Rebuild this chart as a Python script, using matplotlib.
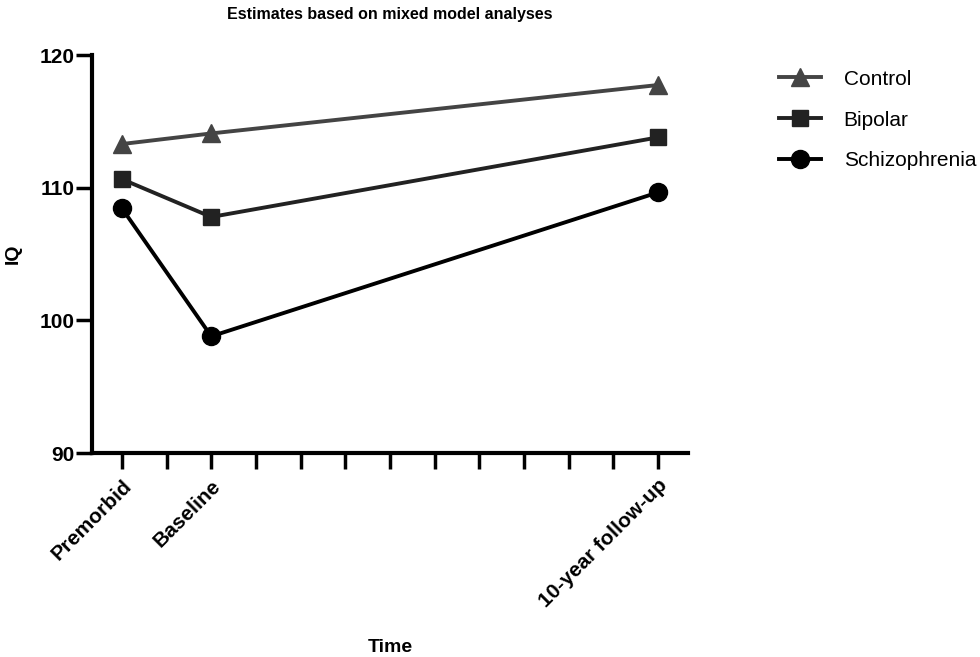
import numpy as np
import matplotlib as mpl
import matplotlib.pyplot as plt

# time in years relative to baseline
time = [-2, 0, 10]
time_labels = ['Premorbid', 'Baseline', '10-year follow-up']
control = [113.3, 114.1, 117.75]
bipolar = [110.65, 107.8, 113.8]
schizo = [108.45, 98.8, 109.65]
groups = ['Control', 'Bipolar', 'Schizophrenia']

mpl.rcParams['font.family'] = ['Liberation Sans', 'DejaVu Sans']
mpl.rcParams['font.size'] = 14

fig = plt.figure(figsize=(9.8, 6.57), dpi=100)
ax = fig.add_axes([0.0939, 0.3105, 0.608, 0.6055])

ax.plot(time, control, marker='^', color='#444444', lw=2.8, ms=13, label=groups[0])
ax.plot(time, bipolar, marker='s', color='#222222', lw=2.8, ms=12, label=groups[1])
ax.plot(time, schizo, marker='o', color='black', lw=2.8, ms=13, label=groups[2])

ax.set_xlim(-2.67, 10.67)
ax.set_ylim(90, 120)
ax.set_yticks([90, 100, 110, 120])
ax.set_xticks(time)
ax.set_xticklabels(time_labels, rotation=45, ha='right', rotation_mode='anchor',
                   fontweight='bold', fontsize=15)
ax.set_xticks(np.arange(-1, 10, 1), minor=True)
for lab in ax.get_yticklabels():
    lab.set_fontweight('bold')
    lab.set_fontsize(15)

for s in ['top', 'right']:
    ax.spines[s].set_visible(False)
for s in ['left', 'bottom']:
    ax.spines[s].set_linewidth(3)
ax.tick_params(axis='both', which='both', direction='out', length=11.5, width=2.5)
ax.tick_params(axis='x', which='major', pad=5)
ax.tick_params(axis='y', pad=1)

ax.set_ylabel('IQ', fontweight='bold', fontsize=14)
ax.yaxis.set_label_coords(-0.118, 0.5)
ax.set_xlabel('Time', fontweight='bold', fontsize=14)
ax.xaxis.set_label_coords(0.5, -0.468)
ax.set_title('Estimates based on mixed model analyses', fontweight='bold',
             fontsize=11.5, pad=26)

fig.legend(loc='upper left', bbox_to_anchor=(0.795, 0.894), frameon=False,
           fontsize=15, handlelength=2.0, labelspacing=1.05, handletextpad=1.1,
           borderaxespad=0, borderpad=0)

plt.savefig('out.png', dpi=100)
